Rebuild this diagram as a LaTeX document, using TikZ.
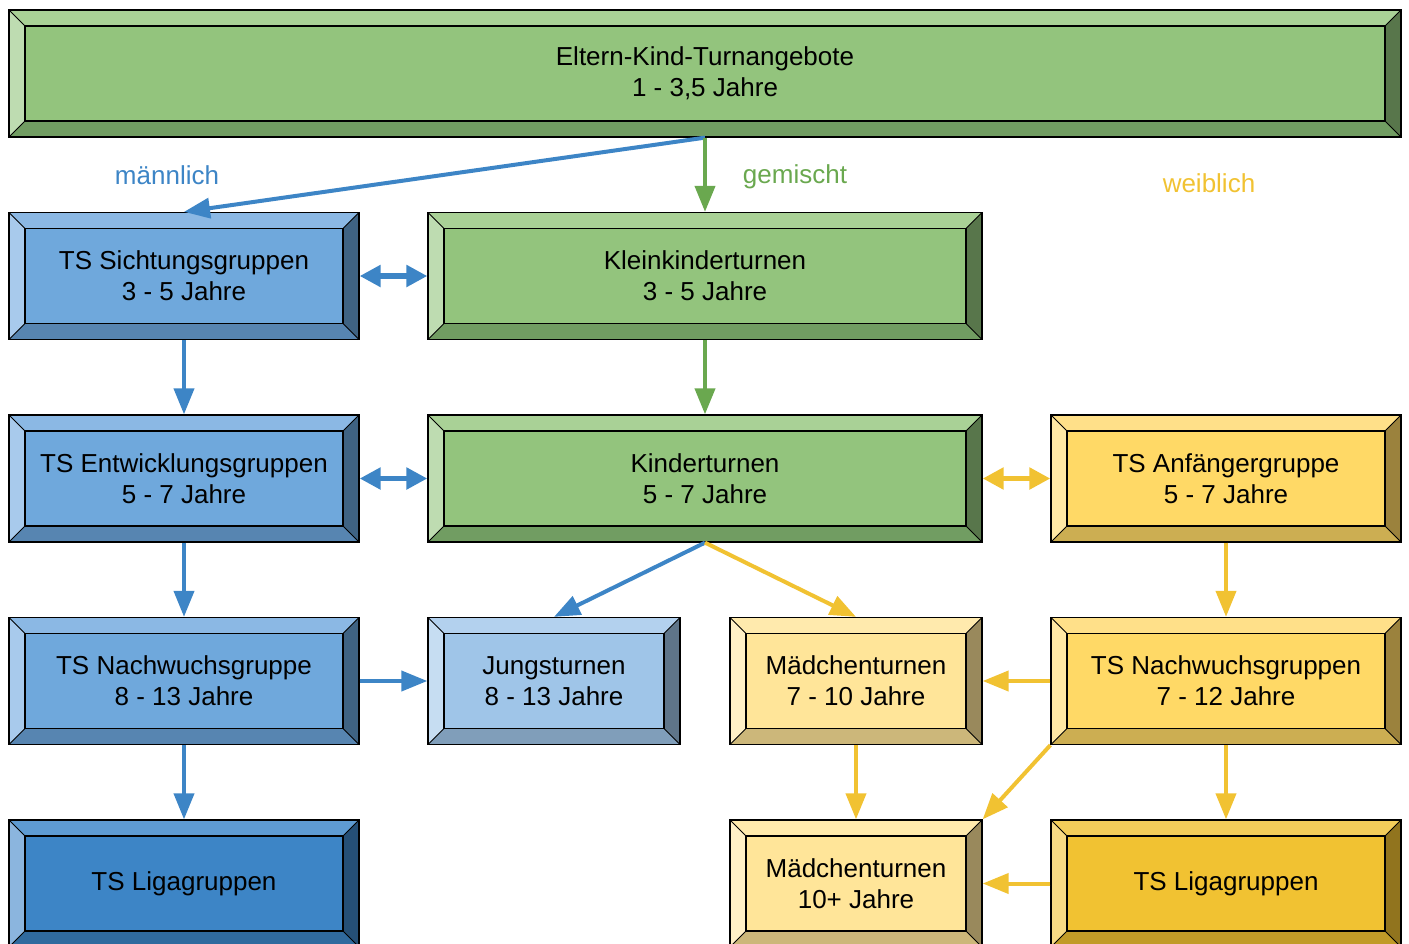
\documentclass[tikz,border=0pt]{standalone}
\usepackage{fontspec}
\usepackage{tikz}
\usetikzlibrary{arrows.meta}
\newfontfamily\boxfont{Liberation Sans}

\definecolor{sichtF}{HTML}{6FA8DC}
\definecolor{sichtT}{HTML}{8BB8E4}
\definecolor{sichtL}{HTML}{A8CAEC}
\definecolor{sichtR}{HTML}{3F6383}
\definecolor{sichtB}{HTML}{5785B1}
\definecolor{jungsF}{HTML}{9FC5E8}
\definecolor{jungsT}{HTML}{B3D1EE}
\definecolor{jungsL}{HTML}{C6DDF2}
\definecolor{jungsR}{HTML}{5F7589}
\definecolor{jungsB}{HTML}{809EBA}
\definecolor{ligaF}{HTML}{3D85C6}
\definecolor{ligaT}{HTML}{5E9BD2}
\definecolor{ligaL}{HTML}{8BB5DE}
\definecolor{ligaR}{HTML}{254F76}
\definecolor{ligaB}{HTML}{306A9E}
\definecolor{gruenF}{HTML}{93C47D}
\definecolor{gruenT}{HTML}{A9D196}
\definecolor{gruenL}{HTML}{BEDCB1}
\definecolor{gruenR}{HTML}{58764B}
\definecolor{gruenB}{HTML}{719D62}
\definecolor{gelbF}{HTML}{FFD966}
\definecolor{gelbT}{HTML}{FFE089}
\definecolor{gelbL}{HTML}{FFE8A4}
\definecolor{gelbR}{HTML}{9B823D}
\definecolor{gelbB}{HTML}{CCAE52}
\definecolor{hellF}{HTML}{FFE599}
\definecolor{hellT}{HTML}{FFEAAD}
\definecolor{hellL}{HTML}{FFF0C6}
\definecolor{hellR}{HTML}{99895C}
\definecolor{hellB}{HTML}{CCB77A}
\definecolor{goldF}{HTML}{F1C232}
\definecolor{goldT}{HTML}{F3CD5A}
\definecolor{goldL}{HTML}{F7DA84}
\definecolor{goldR}{HTML}{91741E}
\definecolor{goldB}{HTML}{C19B28}
\definecolor{blau}{HTML}{3D85C6}
\definecolor{gruen}{HTML}{6AA84F}
\definecolor{gelb}{HTML}{F1C232}

\tikzset{
  box/.style={draw=black, line width=1.3pt, fill=#1F, inner sep=0pt,
    minimum height=127pt, align=center,
    font=\boxfont\fontsize{26}{31}\selectfont,
    path picture={
      \coordinate (pnw) at (path picture bounding box.north west);
      \coordinate (pne) at (path picture bounding box.north east);
      \coordinate (pse) at (path picture bounding box.south east);
      \coordinate (psw) at (path picture bounding box.south west);
      \coordinate (inw) at ([shift={(16pt,-16pt)}]pnw);
      \coordinate (ine) at ([shift={(-16pt,-16pt)}]pne);
      \coordinate (ise) at ([shift={(-16pt,16pt)}]pse);
      \coordinate (isw) at ([shift={(16pt,16pt)}]psw);
      \fill[#1T] (pnw) -- (pne) -- (ine) -- (inw) -- cycle;
      \fill[#1L] (pnw) -- (inw) -- (isw) -- (psw) -- cycle;
      \fill[#1R] (pne) -- (ine) -- (ise) -- (pse) -- cycle;
      \fill[#1B] (psw) -- (isw) -- (ise) -- (pse) -- cycle;
      \draw[line width=1.3pt] (inw) rectangle (ise);
      \draw[line width=0.9pt] (pnw) -- (inw) (pne) -- (ine) (pse) -- (ise) (psw) -- (isw);
    }}
}

\begin{document}
\begin{tikzpicture}[x=1pt,y=-1pt]
  \tikzstyle{pfeil}=[-{Triangle[length=26pt,width=20pt]},line width=4pt]
  \tikzstyle{doppel}=[{Triangle[length=21pt,width=21pt]}-{Triangle[length=21pt,width=21pt]},line width=5.5pt]
  \tikzstyle{zweig}=[font=\boxfont\fontsize{26}{31}\selectfont]
  \useasboundingbox (0,0) rectangle (1409,943);
  \clip (0,0) rectangle (1409,943);

  \node[box=gruen,minimum width=1392pt] (eltern) at (705,73.5) {Eltern-Kind-Turnangebote\\1 - 3,5 Jahre};

  \node[box=sicht,minimum width=350pt] (sicht) at (184,276) {TS Sichtungsgruppen\\3 - 5 Jahre};
  \node[box=gruen,minimum width=554pt] (klein) at (705,276) {Kleinkinderturnen\\3 - 5 Jahre};

  \node[box=sicht,minimum width=350pt] (entw) at (184,478.5) {TS Entwicklungsgruppen\\5 - 7 Jahre};
  \node[box=gruen,minimum width=554pt] (kinder) at (705,478.5) {Kinderturnen\\5 - 7 Jahre};
  \node[box=gelb,minimum width=350pt] (anf) at (1226,478.5) {TS Anfängergruppe\\5 - 7 Jahre};

  \node[box=sicht,minimum width=350pt] (nachwB) at (184,681) {TS Nachwuchsgruppe\\8 - 13 Jahre};
  \node[box=jungs,minimum width=252pt] (jungs) at (554,681) {Jungsturnen\\8 - 13 Jahre};
  \node[box=hell,minimum width=252pt] (maedA) at (856,681) {Mädchenturnen\\7 - 10 Jahre};
  \node[box=gelb,minimum width=350pt] (nachwG) at (1226,681) {TS Nachwuchsgruppen\\7 - 12 Jahre};

  \node[box=liga,minimum width=350pt] (ligaB) at (184,883.5) {TS Ligagruppen};
  \node[box=hell,minimum width=252pt] (maedB) at (856,883.5) {Mädchenturnen\\10+ Jahre};
  \node[box=gold,minimum width=350pt] (ligaG) at (1226,883.5) {TS Ligagruppen};

  \node[zweig,text=blau] (maennl) at (167,175) {männlich};
  \node[zweig,text=gruen] (gem) at (795,177) {gemischt};
  \node[zweig,text=gelb] (weibl) at (1209,183) {weiblich};

  \draw[pfeil,blau] (eltern.south) -- (sicht.north);
  \draw[pfeil,gruen] (eltern.south) -- (klein.north);
  \draw[pfeil,blau] (sicht.south) -- (entw.north);
  \draw[pfeil,blau] (entw.south) -- (nachwB.north);
  \draw[pfeil,blau] (nachwB.south) -- (ligaB.north);
  \draw[pfeil,blau] (nachwB.east) -- (jungs.west);
  \draw[pfeil,blau] (kinder.south) -- (jungs.north);
  \draw[pfeil,gruen] (klein.south) -- (kinder.north);
  \draw[pfeil,gelb] (kinder.south) -- (maedA.north);
  \draw[pfeil,gelb] (anf.south) -- (nachwG.north);
  \draw[pfeil,gelb] (nachwG.west) -- (maedA.east);
  \draw[pfeil,gelb] (maedA.south) -- (maedB.north);
  \draw[pfeil,gelb] (nachwG.south west) -- (maedB.north east);
  \draw[pfeil,gelb] (nachwG.south) -- (ligaG.north);
  \draw[pfeil,gelb] (ligaG.west) -- (maedB.east);
  \draw[doppel,blau] (sicht.east) -- (klein.west);
  \draw[doppel,blau] (entw.east) -- (kinder.west);
  \draw[doppel,gelb] (kinder.east) -- (anf.west);
\end{tikzpicture}
\end{document}
